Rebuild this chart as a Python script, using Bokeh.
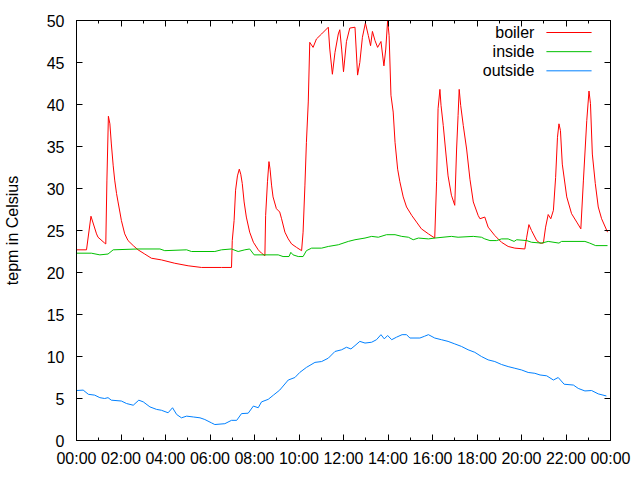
from bokeh.plotting import figure
from bokeh.models import FixedTicker, LinearAxis, Range1d, Label, Arrow
from bokeh.embed import file_html
from bokeh.resources import INLINE

# ---- data ----
boiler_time = ["00:00","00:27","00:39","00:54","00:58","01:16","01:19","01:22","01:26","01:30",
               "01:34","01:39","01:43","01:48","01:52","01:57","02:01","02:10","02:19","02:33",
               "02:46","03:04","03:22","03:49","04:25","05:01","05:37","06:31","06:58","07:00",
               "07:05","07:09","07:14","07:19","07:23","07:27","07:32","07:38","07:47","07:57",
               "08:10","08:19","08:28","08:30","08:35","08:39","08:42","08:46","08:50","08:59",
               "09:08","09:13","09:22","09:31","09:40","09:53","10:07","10:11","10:16","10:20",
               "10:25","10:29","10:38","10:47","11:01","11:19","11:23","11:30","11:37","11:46",
               "11:50","11:55","12:00","12:08","12:17","12:31","12:38","12:44","12:51","12:59",
               "13:07","13:13","13:18","13:25","13:32","13:41","13:49","13:54","13:59","14:03",
               "14:08","14:14","14:19","14:26","14:32","14:41","14:50","15:04","15:17","15:30",
               "15:49","16:06","16:11","16:15","16:20","16:23","16:29","16:35","16:42","16:51",
               "17:00","17:05","17:09","17:12","17:16","17:23","17:32","17:41","17:50","18:03",
               "18:08","18:21","18:30","18:48","19:06","19:24","19:42","20:09","20:14","20:20",
               "20:27","20:41","20:50","20:59","21:05","21:12","21:19","21:26","21:32","21:37",
               "21:41","21:45","21:50","22:02","22:15","22:29","22:40","22:47","22:56","23:02",
               "23:06","23:11","23:19","23:27","23:36","23:52"]
boiler = [22.7,22.7,26.7,24.6,24.2,23.5,23.4,31.0,38.6,37.7,
          35.3,32.7,31.0,29.4,28.4,27.2,26.2,24.6,23.8,23.2,
          22.7,22.2,21.7,21.5,21.1,20.8,20.6,20.6,20.6,23.8,
          26.2,29.8,31.5,32.3,31.7,30.6,28.4,26.6,24.8,23.6,
          22.7,22.3,22.0,26.8,30.8,33.2,32.3,30.4,29.0,27.6,
          27.2,26.4,24.8,24.0,23.4,23.0,22.6,24.8,30.4,35.5,
          40.3,47.4,46.8,47.8,48.4,49.2,46.6,43.6,46.2,48.4,
          48.9,46.6,43.9,47.5,49.1,49.2,43.5,45.0,48.0,49.7,
          48.2,47.0,48.7,47.6,46.8,47.5,44.6,46.6,50.0,48.2,
          41.1,39.1,35.5,32.3,30.8,29.0,27.8,26.8,26.0,25.2,
          24.6,24.1,30.8,39.5,41.8,39.9,37.5,34.7,31.5,29.2,
          28.0,34.7,38.7,41.8,39.9,37.5,34.7,31.1,28.4,26.8,
          26.4,26.6,25.4,24.4,23.6,23.1,22.9,22.8,24.2,25.7,
          25.0,23.8,23.5,23.5,25.4,26.9,26.4,27.4,31.3,36.1,
          37.7,36.9,32.9,29.0,27.0,26.0,25.2,31.0,38.1,41.6,
          40.1,34.1,30.6,27.8,26.4,24.8]

inside_time = ["00:00","00:40","01:03","01:25","01:39","02:46","03:45","03:58","04:57","05:10",
               "06:13","06:31","06:58","07:16","07:34","07:47","07:59","08:28","09:04","09:17",
               "09:33","09:38","09:44","09:58","10:11","10:20","10:34","11:01","11:19","11:46",
               "12:13","12:31","12:58","13:16","13:34","13:56","14:19","14:37","14:55","15:08",
               "15:22","15:49","16:06","16:51","17:09","17:50","18:12","18:21","18:35","18:53",
               "19:06","19:24","19:40","19:47","20:14","20:27","20:54","21:12","21:41","21:48",
               "22:51","23:04","23:20","23:52"]
inside = [22.3,22.3,22.1,22.2,22.7,22.8,22.8,22.6,22.7,22.5,
          22.5,22.7,22.8,22.5,22.7,22.8,22.1,22.1,22.1,21.9,
          21.9,22.4,22.1,21.9,21.9,22.6,22.9,22.9,23.1,23.3,
          23.7,23.9,24.1,24.3,24.2,24.5,24.5,24.3,24.2,23.9,
          24.1,24.0,24.1,24.3,24.2,24.3,24.2,24.0,23.8,23.8,
          24.0,24.0,23.7,23.9,23.8,23.6,23.5,23.7,23.5,23.7,
          23.7,23.5,23.2,23.2]

outside_time = ["00:00","00:18","00:32","00:49","01:03","01:16","01:25","01:34","02:01","02:15",
                "02:33","02:48","03:00","03:18","03:36","03:49","04:07","04:19","04:30","04:43",
                "04:57","05:15","05:33","05:46","06:04","06:13","06:40","06:58","07:12","07:25",
                "07:43","07:57","08:10","08:19","08:37","08:51","09:08","09:31","09:49","10:02",
                "10:20","10:43","11:01","11:19","11:37","11:55","12:08","12:20","12:31","12:44",
                "12:58","13:16","13:29","13:41","13:50","13:59","14:10","14:23","14:38","14:50",
                "14:59","15:26","15:38","15:49","16:06","16:24","16:42","17:00","17:18","17:36",
                "17:54","18:12","18:30","18:48","19:06","19:24","19:42","20:00","20:18","20:36",
                "20:50","21:08","21:26","21:39","21:55","22:20","22:33","22:51","23:09","23:27",
                "23:49"]
outside = [5.95,6.0,5.5,5.4,5.1,5.0,5.1,4.8,4.7,4.4,
           4.2,4.8,4.6,4.0,3.7,3.6,3.3,3.9,3.1,2.7,
           2.9,2.8,2.7,2.5,2.1,1.9,2.0,2.4,2.4,3.2,
           3.25,4.1,3.9,4.6,4.9,5.4,6.0,7.2,7.5,8.1,
           8.7,9.3,9.4,9.8,10.6,10.8,11.1,10.9,11.3,11.8,
           11.6,11.7,12.0,12.6,12.1,12.5,12.0,12.3,12.6,12.6,
           12.2,12.2,12.4,12.6,12.2,12.0,11.8,11.5,11.2,10.8,
           10.5,10.0,9.6,9.4,9.05,8.8,8.6,8.4,8.1,8.0,
           7.8,7.7,7.2,7.5,6.7,6.6,6.2,5.9,5.95,5.55,
           5.3]

x_ticks = [0, 2, 4, 6, 8, 10, 12, 14, 16, 18, 20, 22, 24]
x_minor = [1, 3, 5, 7, 9, 11, 13, 15, 17, 19, 21, 23]
x_tick_labels = ["00:00","02:00","04:00","06:00","08:00","10:00","12:00",
                 "14:00","16:00","18:00","20:00","22:00","00:00"]
y_ticks = [0, 5, 10, 15, 20, 25, 30, 35, 40, 45, 50]
series_names = ["boiler", "inside", "outside"]
series_colors = ["#ff0000", "#00c000", "#0080ff"]


def to_hours(ts):
    return [int(t[:2]) + int(t[3:]) / 60.0 for t in ts]


FONT = "Liberation Sans"
FS = "16px"

p = figure(width=640, height=480, frame_width=534, frame_height=420,
           min_border_left=75, min_border_right=31, min_border_top=20, min_border_bottom=40,
           x_range=Range1d(0, 24), y_range=Range1d(0, 50),
           output_backend="svg", toolbar_location=None,
           background_fill_color="white", border_fill_color="white")
p.grid.visible = False
p.outline_line_color = "black"
p.outline_line_width = 1

# main axes
xa = p.xaxis[0]
xa.ticker = FixedTicker(ticks=x_ticks, minor_ticks=x_minor)
xa.major_label_overrides = {t: lab for t, lab in zip(x_ticks, x_tick_labels)}
ya = p.yaxis[0]
ya.ticker = FixedTicker(ticks=y_ticks, minor_ticks=[])
ya.axis_label = "tepm in Celsius"
ya.axis_label_text_font = FONT
ya.axis_label_text_font_size = FS
ya.axis_label_text_font_style = "normal"
ya.axis_label_text_color = "black"
ya.axis_label_standoff = 23

for ax in (xa, ya):
    ax.major_label_text_font = FONT
    ax.major_label_text_font_size = FS
    ax.major_label_text_color = "black"
    ax.axis_line_color = "black"
    ax.major_tick_line_color = "black"
    ax.minor_tick_line_color = "black"
    ax.major_tick_in = 6
    ax.major_tick_out = 0
    ax.minor_tick_in = 3
    ax.minor_tick_out = 0
xa.major_label_standoff = 9
ya.major_label_standoff = 12

# mirrored axes (ticks only, labels not drawn)
top = LinearAxis(ticker=FixedTicker(ticks=x_ticks, minor_ticks=x_minor))
right = LinearAxis(ticker=FixedTicker(ticks=y_ticks, minor_ticks=[]))
for ax in (top, right):
    ax.major_label_text_color = None
    ax.major_label_text_font_size = "1px"
    ax.major_label_standoff = 0
    ax.axis_line_color = "black"
    ax.major_tick_line_color = "black"
    ax.minor_tick_line_color = "black"
    ax.major_tick_in = 6
    ax.major_tick_out = 0
    ax.minor_tick_in = 3
    ax.minor_tick_out = 0
p.add_layout(top, "above")
p.add_layout(right, "right")

# series
data = [(boiler_time, boiler), (inside_time, inside), (outside_time, outside)]
for (ts, vals), color in zip(data, series_colors):
    p.line(to_hours(ts), vals, line_color=color, line_width=1)

# gnuplot-style key: label on the left, sample on the right
key_label_x = 20.58
key_line_x0, key_line_x1 = 21.12, 23.15
key_y0, key_dy = 48.57, 2.28
for i, (name, color) in enumerate(zip(series_names, series_colors)):
    yy = key_y0 - i * key_dy
    p.add_layout(Label(x=key_label_x, y=yy, text=name, text_align="right",
                       text_baseline="middle", text_font=FONT, text_font_size=FS,
                       text_color="black"))
    p.add_layout(Arrow(end=None, x_start=key_line_x0, y_start=yy, x_end=key_line_x1, y_end=yy,
                       line_color=color, line_width=1))

open("out.html", "w").write(file_html(p, INLINE))
